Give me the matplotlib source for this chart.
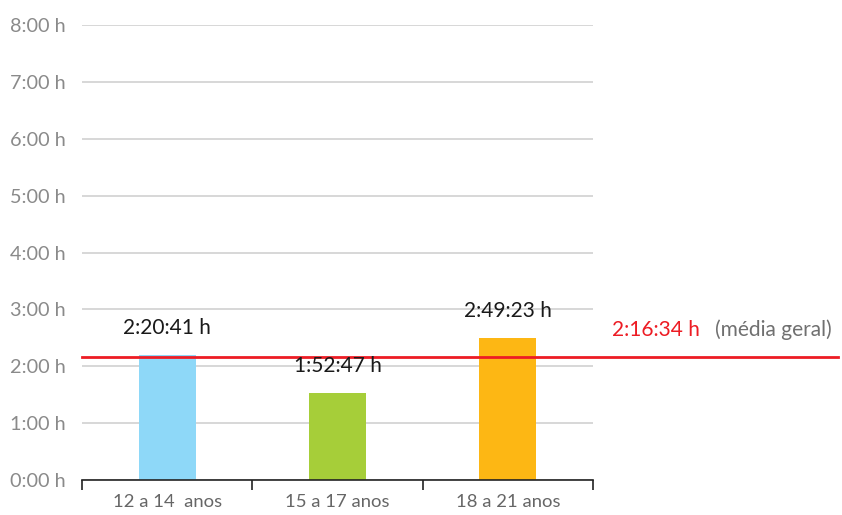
import numpy as np
import matplotlib.pyplot as plt

# faixas etarias e tempo medio (bar heights as drawn in the source chart)
categorias = ['12 a 14  anos', '15 a 17 anos', '18 a 21 anos']
valores = [2.2041, 1.5247, 2.4923]
rotulos = ['2:20:41 h', '1:52:47 h', '2:49:23 h']
cores = ['#8ED8F8', '#A6CE39', '#FDB714']
media = 2.1634
media_rotulo = '2:16:34 h'
yticks = np.arange(0, 9)
ytick_labels = ['%d:00 h' % h for h in yticks]

plt.rcParams['font.family'] = ['Lato', 'DejaVu Sans']

fig = plt.figure(figsize=(8.42, 5.15), dpi=100)
ax = fig.add_axes([82/842, 35/515, 511/842, 455/515])

x = np.arange(len(categorias))
ax.bar(x, valores, width=0.335, color=cores, zorder=3)

ax.set_xlim(-0.5, 2.5)
ax.set_ylim(0, 8)
ax.set_yticks(yticks)
ax.set_yticklabels(ytick_labels, fontsize=14.3, color='#8a8a8a')
ax.tick_params(axis='y', length=0, pad=11.5)
ax.yaxis.grid(True, color='#d4d4d4', lw=1.3, zorder=0)
ax.set_axisbelow(True)

ax.set_xticks(x)
ax.set_xticklabels(categorias, fontsize=13.3, color='#666666')
ax.tick_params(axis='x', which='major', length=0, pad=10)
ax.set_xticks([-0.5, 0.5, 1.5, 2.5], minor=True)
ax.tick_params(axis='x', which='minor', length=7, width=1.2, color='#222222', direction='out')

for s in ['top', 'right', 'left']:
    ax.spines[s].set_visible(False)
ax.spines['bottom'].set_color('#222222')
ax.spines['bottom'].set_linewidth(1.2)
ax.spines['bottom'].set_zorder(4)

for xi, v, r in zip(x, valores, rotulos):
    ax.annotate(r, (xi, v), xytext=(0, 19.5), textcoords='offset points',
                ha='center', va='center', fontsize=15, color='#1a1a1a', zorder=5)

# linha da media geral, passa para fora da area do grafico
ax.axhline(media, xmin=0, xmax=(838-82)/511, color='#ED1C24', lw=2, clip_on=False, zorder=4)
trans = ax.get_yaxis_transform()
ax.annotate(media_rotulo, (1.037, media), xycoords=trans, xytext=(0, 19.5),
            textcoords='offset points', ha='left', va='center', fontsize=15,
            color='#ED1C24', annotation_clip=False)
ax.annotate('(média geral)', (1.239, media), xycoords=trans, xytext=(0, 19.5),
            textcoords='offset points', ha='left', va='center', fontsize=15,
            color='#707070', annotation_clip=False)

fig.savefig('out.png', dpi=100)
